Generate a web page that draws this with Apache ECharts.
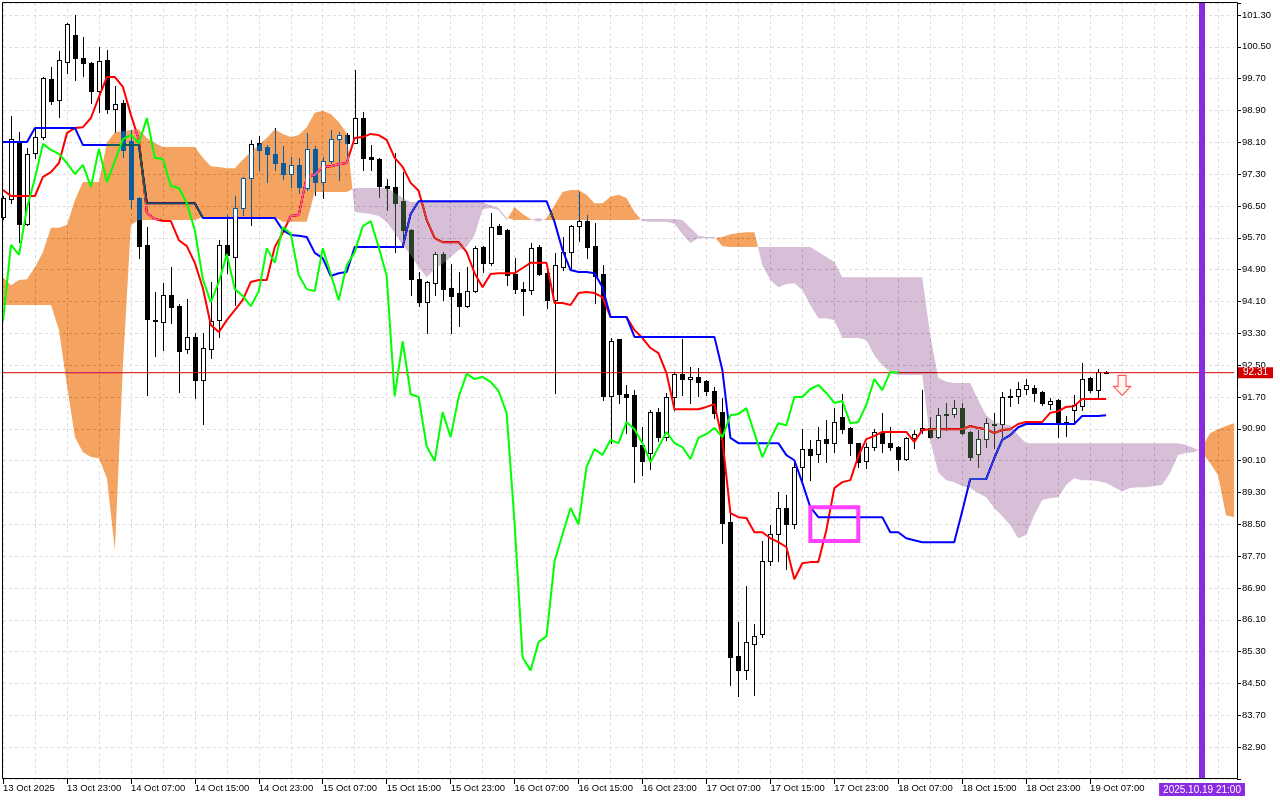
<!DOCTYPE html>
<html><head><meta charset="utf-8">
<script src="https://cdn.jsdelivr.net/npm/echarts@6/dist/echarts.min.js"></script>
<style>html,body{margin:0;padding:0;background:#fff}#c{width:1280px;height:800px}</style>
</head><body><div id="c"></div>
<script>
// ---------- DATA (hourly bars) ----------
const open = [96.22,96.67,98.13,96.05,97.83,98.23,99.69,99.16,100.12,100.80,
100.22,100.09,99.39,100.17,98.94,99.09,98.13,96.70,95.52,93.63,
93.58,94.26,93.98,92.90,93.21,92.12,92.90,93.63,95.52,95.22,
96.45,97.20,98.08,97.98,97.81,97.58,97.30,97.53,96.95,97.93,
97.10,97.63,98.18,98.28,98.08,98.71,97.73,97.68,97.00,96.98,
96.62,95.89,94.66,94.08,94.56,95.29,94.44,94.31,93.98,94.36,
95.47,95.07,95.99,95.89,94.79,94.41,94.39,95.47,94.81,94.13,
94.96,95.34,95.99,96.12,95.49,94.79,91.72,93.15,91.77,91.75,
90.49,90.29,91.32,90.69,91.69,92.28,92.15,92.20,92.10,91.85,
91.32,88.55,85.19,84.83,85.49,85.74,87.57,88.25,88.91,88.50,
89.94,90.39,90.26,90.64,90.54,91.19,90.92,90.54,90.09,90.44,
90.82,90.54,90.44,90.14,90.67,90.87,90.92,90.69,91.24,91.27,
91.42,90.82,90.26,90.64,91.02,91.02,91.72,91.72,91.90,91.92,
91.82,91.52,91.62,91.04,91.37,91.47,92.17,91.87,92.33];
const high = [96.75,98.76,98.36,97.96,98.48,99.74,99.99,100.39,101.10,101.30,
100.75,100.12,100.50,100.42,99.52,99.16,98.41,96.73,95.97,94.34,
94.56,94.96,94.03,94.16,93.31,93.31,94.59,95.64,96.27,96.75,
97.23,98.16,98.26,98.03,98.46,98.01,97.73,97.71,98.33,98.01,
97.73,98.41,98.36,98.33,99.92,98.86,98.03,97.71,97.18,97.83,
97.35,95.92,94.84,94.61,95.34,95.34,95.04,94.84,94.97,95.49,
95.49,96.32,96.04,95.92,95.19,94.59,95.57,95.52,94.89,95.32,
95.72,96.02,96.85,96.27,96.07,95.01,93.18,93.15,91.99,91.87,
90.94,91.37,91.42,91.80,92.33,93.15,92.45,92.43,92.13,91.95,
91.67,88.78,86.04,86.95,85.99,88.08,88.48,89.31,89.23,90.04,
90.89,90.62,90.94,91.12,91.42,91.77,90.94,90.54,90.54,90.89,
91.29,90.94,90.47,90.69,90.87,91.87,91.19,91.42,91.54,91.62,
91.54,90.84,90.87,91.17,91.29,91.82,91.90,92.08,92.15,92.00,
91.85,91.67,91.65,91.22,91.75,92.55,92.20,92.40,92.35];
const low = [96.17,96.57,95.59,96.02,97.71,98.18,99.06,98.74,99.84,99.67,
99.77,99.09,98.86,98.84,98.36,97.73,96.45,95.19,91.75,92.73,
92.88,93.56,91.82,92.80,91.67,91.02,92.68,93.21,94.81,94.01,
96.27,96.02,97.40,97.10,97.40,97.18,96.98,96.83,96.90,96.78,
96.70,97.58,97.15,97.73,98.08,97.40,97.40,96.72,96.40,95.34,
95.47,94.26,93.98,93.31,94.26,94.13,93.31,93.48,93.96,94.34,
94.84,95.01,95.79,94.51,94.31,93.76,94.29,94.76,93.93,91.80,
94.89,94.94,95.62,95.19,94.06,91.62,90.54,91.54,90.79,89.56,
89.74,89.89,90.59,90.61,91.37,91.75,91.54,91.72,91.75,91.17,
88.03,84.46,84.18,84.61,84.21,85.66,87.47,87.57,87.37,88.40,
89.61,89.61,90.06,90.06,90.31,90.79,90.24,89.94,89.91,90.37,
90.31,90.37,89.86,90.11,90.42,90.79,90.67,90.67,90.87,91.19,
90.77,90.11,89.94,90.44,90.42,90.69,91.47,91.54,91.77,91.60,
91.50,91.39,90.69,90.72,91.02,91.37,91.82,91.67,92.30];
const close = [96.70,98.18,96.05,97.81,98.23,99.72,99.14,100.17,101.07,100.22,
100.09,99.39,100.14,98.94,99.06,97.91,96.67,95.49,93.66,93.61,
94.26,93.96,92.85,93.21,92.12,92.93,93.61,95.52,95.27,96.45,
97.20,98.06,97.91,97.81,97.58,97.30,97.53,96.98,97.93,97.10,
97.63,98.18,98.28,98.08,98.71,97.71,97.68,97.00,96.95,96.57,
95.89,94.66,94.08,94.59,95.29,94.41,94.24,93.98,94.36,95.44,
95.07,95.97,95.80,94.76,94.41,94.36,95.44,94.79,94.13,95.01,
95.34,95.99,96.12,95.47,94.74,91.72,93.10,91.77,91.70,90.46,
90.09,91.32,90.69,91.70,92.28,92.15,92.20,92.08,91.85,91.30,
88.53,85.16,84.83,85.54,85.69,87.57,88.25,88.91,88.50,89.94,
90.39,90.24,90.62,90.54,91.07,90.89,90.54,90.06,90.44,90.82,
90.54,90.44,90.14,90.67,90.77,90.92,90.69,91.24,91.27,91.42,
90.79,90.19,90.64,91.04,90.99,91.70,91.70,91.90,92.00,91.80,
91.55,91.60,91.04,91.07,91.50,92.15,91.87,92.33,92.31];
// Tenkan-sen (red)
const tenkan = [96.90,96.75,96.75,96.75,96.75,97.23,97.35,97.58,98.33,98.46,
98.48,98.71,99.24,99.74,99.74,99.49,98.79,98.16,96.32,96.17,
96.12,96.12,95.64,95.49,95.07,94.44,93.51,93.33,93.63,93.88,
94.14,94.59,94.64,94.64,95.47,95.82,96.25,96.27,97.23,97.28,
97.48,97.50,97.55,97.58,98.21,98.23,98.31,98.28,98.16,97.71,
97.48,97.08,96.88,96.15,95.69,95.59,95.59,95.59,95.34,94.81,
94.46,94.79,94.81,94.81,94.81,94.94,95.07,95.07,95.07,94.06,
94.06,94.01,94.31,94.34,94.31,94.21,93.71,93.71,93.71,93.38,
93.18,92.93,92.80,92.30,91.39,91.39,91.39,91.39,91.45,91.52,
90.62,88.78,88.68,88.66,88.30,88.30,88.15,88.05,87.93,87.12,
87.52,87.55,87.55,88.35,89.41,89.56,89.61,90.21,90.64,90.72,
90.82,90.82,90.82,90.82,90.57,90.87,90.89,90.89,90.89,90.89,
90.89,90.97,90.92,90.89,90.79,90.87,90.89,91.02,91.07,91.07,
91.07,91.30,91.34,91.45,91.47,91.65,91.65,91.65,91.65];
// Kijun-sen (blue)
const kijun = [98.11,98.11,98.11,98.11,98.46,98.46,98.46,98.46,98.46,98.46,
98.03,98.03,98.03,98.03,98.03,98.03,98.03,98.03,96.57,96.57,
96.57,96.57,96.57,96.57,96.57,96.20,96.20,96.20,96.20,96.20,
96.20,96.20,96.20,96.20,96.20,95.89,95.77,95.75,95.72,95.32,
95.19,94.74,94.81,94.84,95.47,95.47,95.47,95.47,95.47,95.47,
95.47,96.30,96.62,96.62,96.62,96.62,96.62,96.62,96.62,96.62,
96.62,96.62,96.62,96.62,96.62,96.62,96.62,96.62,96.62,96.10,
95.39,94.89,94.84,94.84,94.81,94.46,93.71,93.71,93.71,93.21,
93.21,93.21,93.21,93.21,93.21,93.21,93.21,93.21,93.21,93.21,
92.37,90.67,90.54,90.54,90.54,90.54,90.54,90.54,90.24,90.11,
89.54,88.93,88.68,88.68,88.68,88.68,88.68,88.68,88.68,88.68,
88.68,88.30,88.30,88.15,88.10,88.05,88.05,88.05,88.05,88.05,
88.83,89.64,89.64,89.64,90.16,90.62,90.74,90.94,91.02,91.02,
91.02,91.02,91.02,91.02,91.02,91.22,91.22,91.22,91.24];
// Senkou Span A / B (already shifted 26 bars forward)
const senkouA = [94.71,94.51,94.64,94.66,94.96,95.34,95.95,95.95,96.02,96.65,
97.10,97.10,97.10,98.08,98.36,98.38,98.41,98.43,98.21,98.08,
97.98,97.98,97.98,97.98,97.98,97.71,97.50,97.48,97.45,97.45,
97.66,97.86,98.03,98.21,98.43,98.31,98.23,98.28,98.48,98.84,
98.89,98.81,98.61,98.33,96.35,96.32,96.30,96.25,96.10,95.82,
95.52,95.27,94.96,94.71,94.91,95.04,95.22,95.39,95.47,95.77,
96.42,96.45,96.40,96.15,96.47,96.30,96.17,96.10,96.20,96.52,
96.85,96.90,96.90,96.78,96.57,96.57,96.73,96.78,96.70,96.35,
96.12,96.10,96.10,96.10,96.05,95.79,95.57,95.69,95.69,95.69,
95.72,95.79,95.82,95.84,95.84,95.01,94.64,94.46,94.54,94.56,
94.39,94.01,93.68,93.68,93.63,93.18,93.18,93.18,93.13,92.75,
92.50,92.33,92.25,92.25,92.25,92.25,90.62,89.81,89.61,89.56,
89.46,89.41,89.28,89.18,88.91,88.71,88.48,88.15,88.23,88.73,
89.11,89.16,89.18,89.49,89.66,89.61,89.61,89.59,89.54,89.43,
89.33,89.41,89.43,89.43,89.46,89.49,89.79,90.24,90.29,90.31,
90.44,90.79,90.89,90.97,91.04];
const senkouB = [94.01,94.01,94.01,94.01,94.01,94.01,94.01,93.38,92.00,90.69,
90.31,90.19,90.16,89.66,87.85,92.48,96.02,96.15,96.15,96.15,
96.15,96.15,96.15,96.15,96.15,96.22,96.22,96.22,96.22,96.22,
96.22,96.22,96.22,96.22,96.22,96.10,96.10,96.10,96.10,96.85,
96.85,96.85,96.85,96.85,96.95,96.95,96.95,96.95,96.95,96.83,
96.70,96.60,96.60,96.60,96.60,96.60,96.60,96.60,96.60,96.60,
96.60,96.52,96.45,96.20,96.15,96.15,96.15,96.20,96.15,96.15,
96.15,96.15,96.15,96.15,96.15,96.15,96.15,96.15,96.15,96.15,
96.17,96.17,96.17,96.17,96.17,96.15,95.95,95.75,95.72,95.72,
95.49,95.47,95.47,95.47,95.47,95.47,95.47,95.47,95.47,95.47,
95.47,95.47,95.34,95.22,95.09,94.71,94.71,94.71,94.71,94.71,
94.71,94.71,94.71,94.71,94.71,94.71,93.25,92.18,92.08,92.05,
92.05,92.05,91.62,91.24,91.07,91.02,90.99,90.74,90.54,90.54,
90.54,90.54,90.54,90.54,90.54,90.54,90.54,90.54,90.54,90.54,
90.54,90.54,90.54,90.54,90.54,90.54,90.54,90.54,90.49,90.42,
90.31,90.04,89.74,88.73,88.68];
// Chikou span = close shifted back 26 bars
const CHIKOU_SHIFT = 26;
const chikou = close.slice(CHIKOU_SHIFT);
const lastClose = close[close.length - 1];

// time axis
const xTickLabels = ['13 Oct 2025','13 Oct 23:00','14 Oct 07:00','14 Oct 15:00','14 Oct 23:00','15 Oct 07:00',
  '15 Oct 15:00','15 Oct 23:00','16 Oct 07:00','16 Oct 15:00','16 Oct 23:00','17 Oct 07:00','17 Oct 15:00',
  '17 Oct 23:00','18 Oct 07:00','18 Oct 15:00','18 Oct 23:00','19 Oct 07:00'];
const yTickLabels = ['82.90','83.70','84.50','85.30','86.10','86.90','87.70','88.50','89.30','90.10','90.90','91.70',
  '92.50','93.30','94.10','94.90','95.70','96.50','97.30','98.10','98.90','99.70','100.50','101.30'];
const pad = n => String(n).padStart(2, '0');
const categories = [];
const startTime = Date.UTC(2025, 9, 13, 15);
for (let i = 0; i < 155; i++) {
  const d = new Date(startTime + i * 3600e3);
  categories.push(d.getUTCFullYear() + '.' + pad(d.getUTCMonth() + 1) + '.' + pad(d.getUTCDate()) + ' ' + pad(d.getUTCHours()) + ':00');
}
const markerTime = '2025.10.19 21:00';
const highlightBox = { from: '2025.10.17 20:00', to: '2025.10.18 02:00', high: 88.93, low: 88.08 };
const sellArrow = { time: '2025.10.19 11:00', price: 91.99 };

// ---------- cloud runs (same-sign segments of A-B) ----------
const cloudRuns = [];
(function () {
  const sg = i => (senkouA[i] >= senkouB[i] ? 1 : -1);
  let s = 0;
  for (let i = 1; i <= senkouA.length; i++) {
    if (i === senkouA.length || sg(i) !== sg(s)) { cloudRuns.push([s, i - 1, sg(s)]); s = i; }
  }
})();

// MT5 draws the cloud inverting what is beneath it: white -> sandybrown / thistle
const CLOUD_BULL_SRC = '#0b5b9f';   // 255 - (244,164,96)
const CLOUD_BEAR_SRC = '#274027';   // 255 - (216,191,216)
function renderCloud(params, api) {
  const run = cloudRuns[params.dataIndex];
  const s = run[0], e = run[1], sign = run[2];
  const P = (i, v) => api.coord([i, v]);
  const cross = i => {
    const d0 = senkouA[i] - senkouB[i], d1 = senkouA[i + 1] - senkouB[i + 1];
    const t = d0 / (d0 - d1);
    const a0 = P(i, senkouA[i]), a1 = P(i + 1, senkouA[i + 1]);
    return [a0[0] + t * (a1[0] - a0[0]), a0[1] + t * (a1[1] - a0[1])];
  };
  const pts = [];
  if (s > 0) pts.push(cross(s - 1));
  for (let i = s; i <= e; i++) pts.push(P(i, senkouA[i]));
  if (e < senkouA.length - 1) pts.push(cross(e));
  for (let i = e; i >= s; i--) pts.push(P(i, senkouB[i]));
  return { type: 'polygon', shape: { points: pts }, style: { fill: sign > 0 ? CLOUD_BULL_SRC : CLOUD_BEAR_SRC } };
}

function candleGeom(api) {
  const i = api.value(0), o = api.value(1), c = api.value(2), l = api.value(3), h = api.value(4);
  const po = api.coord([i, o]);
  const x = Math.round(po[0]);
  const yo = Math.round(po[1]), yc = Math.round(api.coord([i, c])[1]);
  const yh = Math.round(api.coord([i, h])[1]), yl = Math.round(api.coord([i, l])[1]);
  const inCloud = i < senkouA.length &&
    Math.max(o, c) >= Math.min(senkouA[i], senkouB[i]) && Math.min(o, c) <= Math.max(senkouA[i], senkouB[i]);
  return { x, top: Math.min(yo, yc), bot: Math.max(yo, yc), yh, yl, bull: c > o, inCloud };
}
const R = (x, y, w, h, fill) => ({ type: 'rect', shape: { x, y, width: w, height: h }, style: { fill } });
const EMPTY = { type: 'group', children: [] };

function renderCandleLines(params, api) {
  const g = candleGeom(api);
  const ch = [];
  const K = '#000';
  if (g.top > g.yh) ch.push(R(g.x, g.yh, 1, g.top - g.yh, K));
  if (g.yl > g.bot) ch.push(R(g.x, g.bot + 1, 1, g.yl - g.bot, K));
  if (!g.bull || g.bot - g.top < 2) {
    ch.push(R(g.x - 2, g.top, 5, g.bot - g.top + 1, K));
  } else {
    ch.push(R(g.x - 2, g.top, 5, 1, K), R(g.x - 2, g.bot, 5, 1, K),
      R(g.x - 2, g.top + 1, 1, g.bot - g.top - 1, K), R(g.x + 2, g.top + 1, 1, g.bot - g.top - 1, K));
  }
  return { type: 'group', children: ch };
}
function renderCandleFill(params, api) {
  const g = candleGeom(api);
  if (!g.bull || g.bot - g.top < 2) return EMPTY;
  return R(g.x - 1, g.top + 1, 3, g.bot - g.top - 1, '#fff');
}
function renderCandleFillCloud(params, api) {
  const g = candleGeom(api);
  if (!g.bull || !g.inCloud || g.bot - g.top < 2) return EMPTY;
  return R(g.x - 1, g.top + 1, 3, g.bot - g.top - 1, '#fff');
}

const ohlc = open.map((o, i) => [i, o, close[i], low[i], high[i]]);
const every8 = idx => idx % 8 === 0 && idx <= 136;
const FONT = 'Liberation Sans';

const chart = echarts.init(document.getElementById('c'), null, { renderer: 'canvas', width: 1280, height: 800 });
chart.setOption({
  animation: false,
  backgroundColor: '#ffffff',
  textStyle: { fontFamily: FONT },
  grid: { left: 2, top: 3, width: 1232, height: 776, show: false },
  xAxis: {
    type: 'category', data: categories, boundaryGap: false,
    axisLine: { show: false },
    axisTick: { show: true, interval: every8, length: 5, lineStyle: { color: '#000' } },
    axisLabel: { interval: every8, align: 'left', margin: 4, fontSize: 9.5, color: '#000', fontFamily: FONT,
      formatter: (v, idx) => xTickLabels[idx / 8] || '' },
    splitLine: { show: true, interval: idx => idx % 4 === 0, lineStyle: { color: '#dedede', type: [3, 3] } }
  },
  yAxis: {
    type: 'value', position: 'right', offset: 3, min: 82.10, max: 101.60, interval: 0.8, scale: true,
    axisLine: { show: false },
    axisTick: { show: true, length: 4, lineStyle: { color: '#000' } },
    axisLabel: { margin: 5, fontSize: 9.5, color: '#000', fontFamily: FONT,
      formatter: v => { const s = v.toFixed(2); return yTickLabels.indexOf(s) >= 0 ? s : ''; } },
    splitLine: { show: true, lineStyle: { color: '#dedede', type: [3, 3] } }
  },
  graphic: [{ type: 'rect', silent: true, z: 100, shape: { x: 2.5, y: 2.5, width: 1235, height: 776 },
    style: { fill: 'none', stroke: '#000', lineWidth: 1 } }],
  series: [
    { type: 'custom', name: 'bullFill', z: 1, silent: true, renderItem: renderCandleFill, data: ohlc,
      encode: { x: 0, y: [1, 2, 3, 4] } },
    { type: 'custom', name: 'candles', z: 2, silent: true, renderItem: renderCandleLines,
      data: ohlc, encode: { x: 0, y: [1, 2, 3, 4] } },
    { type: 'line', name: 'Tenkan', z: 3, silent: true, data: tenkan, showSymbol: false,
      lineStyle: { color: '#ff0000', width: 2 }, itemStyle: { color: '#ff0000' } },
    { type: 'line', name: 'Kijun', z: 3, silent: true, data: kijun, showSymbol: false,
      lineStyle: { color: '#0000ff', width: 2 }, itemStyle: { color: '#0000ff' } },
    { type: 'line', name: 'Price', z: 3, silent: true, data: categories.map(() => lastClose),
      showSymbol: false, lineStyle: { color: '#d40000', width: 1 }, itemStyle: { color: '#d40000' },
      markLine: { silent: true, symbol: 'none', z: 9, data: [
        { yAxis: lastClose, lineStyle: { color: 'rgba(0,0,0,0)', width: 1 },
          label: { show: true, position: 'end', formatter: lastClose.toFixed(2), color: '#fff', backgroundColor: '#d40000',
            padding: [1, 5, 0, 5], fontSize: 10, distance: 4, fontFamily: FONT, opacity: 1 } }
      ] } },
    { type: 'custom', name: 'cloud', z: 4, silent: true, blendMode: 'difference', renderItem: renderCloud,
      data: cloudRuns.map(r => [r[0], senkouA[r[0]]]) },
    { type: 'custom', name: 'bullFillCloud', z: 5, silent: true, renderItem: renderCandleFillCloud, data: ohlc,
      encode: { x: 0, y: [1, 2, 3, 4] } },
    { type: 'line', name: 'Chikou', z: 6, silent: true, data: chikou, showSymbol: false,
      lineStyle: { color: '#00ff00', width: 2 }, itemStyle: { color: '#00ff00' },
      markLine: { silent: true, symbol: 'none', z: 8, data: [
        { xAxis: markerTime, lineStyle: { color: '#8a2be2', width: 6, type: 'solid' },
          label: { show: true, position: 'start', formatter: markerTime, color: '#fff', backgroundColor: '#8a2be2',
            padding: [2, 4, 1, 4], fontSize: 10, distance: 4, fontFamily: FONT } }
      ] },
      markArea: { silent: true, z: 7, itemStyle: { color: 'rgba(0,0,0,0)', borderColor: '#ff40ff', borderWidth: 4 },
        data: [[{ xAxis: highlightBox.from, yAxis: highlightBox.high }, { xAxis: highlightBox.to, yAxis: highlightBox.low }]] } },
    { type: 'scatter', name: 'signal', z: 8, silent: true,
      symbol: 'path://M4.5,0 L12.5,0 L12.5,11 L17,11 L8.5,20 L0,11 L4.5,11 Z', symbolSize: [17, 20],
      itemStyle: { color: '#fff4ec', borderColor: '#ff3030', borderWidth: 1.2 },
      data: [[sellArrow.time, sellArrow.price]] }
  ]
});
</script>
</body></html>
